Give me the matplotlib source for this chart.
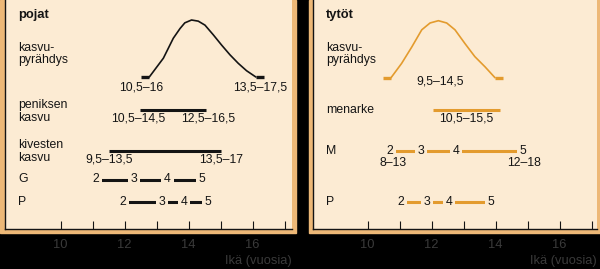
import matplotlib
matplotlib.use("Agg")
import matplotlib.pyplot as plt
from matplotlib.patches import Rectangle

plt.rcParams['font.family'] = ['Liberation Sans', 'DejaVu Sans']

# --- data (ages in years) -------------------------------------------------
ticks = [10, 11, 12, 13, 14, 15, 16, 17]
tick_labels = ['10', '', '12', '', '14', '', '16', '']

# boys
boys_spurt_age = [12.77, 13.21, 13.52, 13.73, 13.88, 14.09, 14.30, 14.51,
                  14.77, 15.03, 15.29, 15.55, 15.81, 16.10]
boys_spurt_rel = [0.0, 0.33, 0.68, 0.85, 0.95, 1.0, 0.98, 0.91,
                  0.74, 0.56, 0.39, 0.24, 0.11, 0.0]
boys_spurt_labels = ['10,5–16', '13,5–17,5']
penis_range = [12.48, 14.53]
penis_labels = ['10,5–14,5', '12,5–16,5']
testes_range = [11.5, 15.02]
testes_labels = ['9,5–13,5', '13,5–17']
g_stages = ['2', '3', '4', '5']
g_ages = [11.1, 12.29, 13.34, 14.42]
boys_p_stages = ['2', '3', '4', '5']
boys_p_ages = [11.94, 13.16, 13.85, 14.6]

# girls
girls_spurt_age = [10.73, 11.06, 11.38, 11.69, 11.95, 12.21, 12.47, 12.73,
                   13.04, 13.35, 13.67, 13.98]
girls_spurt_rel = [0.0, 0.25, 0.54, 0.84, 0.96, 1.0, 0.96, 0.84,
                   0.60, 0.37, 0.19, 0.0]
girls_spurt_label = '9,5–14,5'
menarche_range = [12.05, 14.13]
menarche_label = '10,5–15,5'
m_stages = ['2', '3', '4', '5']
m_ages = [10.68, 11.66, 12.75, 14.86]
m_range_labels = ['8–13', '12–18']
girls_p_stages = ['2', '3', '4', '5']
girls_p_ages = [11.03, 11.86, 12.54, 13.85]

# --- style ------------------------------------------------------------------
BEIGE = '#FCEBD3'
FRAME = '#EDB877'
INK = '#141414'
ORANGE = '#E39B2E'
TICKCOL = '#3a3a3a'
FS = 8.8
PX = 0.72  # points per pixel at dpi 100

W, H = 600, 269
fig = plt.figure(figsize=(W / 100, H / 100), dpi=100, facecolor='black')


def frac(x0, y0, x1, y1):
    # pixel box (top-left origin) -> figure fraction rect
    return [x0 / W, (H - y1) / H, (x1 - x0) / W, (y1 - y0) / H]


def make_panel(frame_box, ax_box, xlim):
    r = frac(*frame_box)
    fig.patches.append(Rectangle(r[:2], r[2], r[3], transform=fig.transFigure,
                                 color=FRAME, zorder=-5))
    ax = fig.add_axes(frac(*ax_box))
    ax.set_facecolor(BEIGE)
    ax.set_xlim(*xlim)
    ax.set_ylim(229, 0)  # vertical layout in pixels from top
    for s in ['top', 'right']:
        ax.spines[s].set_visible(False)
    for s in ['left', 'bottom']:
        ax.spines[s].set_color(INK)
        ax.spines[s].set_linewidth(1.0)
    ax.set_yticks([])
    ax.set_xticks(ticks)
    ax.set_xticklabels(tick_labels)
    ax.tick_params(axis='x', direction='in', length=8 * PX, width=0.8,
                   color=INK, labelcolor=TICKCOL, labelsize=FS + 0.5, pad=7)
    ax.annotate('Ikä (vuosia)', xy=(1, 0), xycoords='axes fraction',
                xytext=(0, -32 * PX), textcoords='offset points',
                ha='right', va='center', color=TICKCOL, fontsize=FS + 0.5)
    return ax


def row_label(ax, text, y, bold=False):
    ax.annotate(text, xy=(0, y), xycoords=('axes fraction', 'data'),
                xytext=(13 * PX, 0), textcoords='offset points',
                ha='left', va='center', fontsize=FS + (0.6 if bold else 0),
                fontweight='bold' if bold else 'normal', color=INK,
                linespacing=1.05)


def label(ax, x, y, text):
    ax.text(x, y, text, ha='center', va='center', fontsize=FS, color=INK)


def spurt(ax, ages, rel, color, base=77, height=57, bar=0.26):
    ys = [base - r * height for r in rel]
    ax.plot(ages, ys, color=color, lw=1.2, solid_capstyle='round')
    ax.plot([ages[0] - bar, ages[0]], [base, base], color=color, lw=2.4,
            solid_capstyle='butt')
    ax.plot([ages[-1], ages[-1] + bar], [base, base], color=color, lw=2.4,
            solid_capstyle='butt')


def stages(ax, ages, names, y, color):
    ax.plot(ages, [y] * len(ages), color=color, lw=2.2, solid_capstyle='butt')
    for a, n in zip(ages, names):
        ax.text(a, y, n, ha='center', va='center', fontsize=FS, color=INK,
                bbox=dict(boxstyle='square,pad=0.22', fc=BEIGE, ec='none'))


# --- boys panel -------------------------------------------------------------
ax1 = make_panel((0, 0, 296, 233), (5, 0, 292, 229), (8.26, 17.23))
row_label(ax1, 'pojat', 15, bold=True)
row_label(ax1, 'kasvu-\npyrähdys', 54)
spurt(ax1, boys_spurt_age, boys_spurt_rel, INK)
label(ax1, boys_spurt_age[0] - 0.26, 87, boys_spurt_labels[0])
label(ax1, boys_spurt_age[-1] + 0.13, 87, boys_spurt_labels[1])

row_label(ax1, 'peniksen\nkasvu', 111.5)
ax1.plot(penis_range, [110, 110], color=INK, lw=2.2, solid_capstyle='butt')
label(ax1, penis_range[0] - 0.06, 118.5, penis_labels[0])
label(ax1, penis_range[1] + 0.09, 118.5, penis_labels[1])

row_label(ax1, 'kivesten\nkasvu', 151.5)
ax1.plot(testes_range, [151, 151], color=INK, lw=2.2, solid_capstyle='butt')
label(ax1, testes_range[0], 160, testes_labels[0])
label(ax1, testes_range[1], 160, testes_labels[1])

row_label(ax1, 'G', 179.5)
stages(ax1, g_ages, g_stages, 179.5, INK)
row_label(ax1, 'P', 201.7)
stages(ax1, boys_p_ages, boys_p_stages, 201.7, INK)

# --- girls panel ------------------------------------------------------------
ax2 = make_panel((309, 0, 600, 233), (313, 0, 597, 229), (8.29, 17.17))
row_label(ax2, 'tytöt', 15, bold=True)
row_label(ax2, 'kasvu-\npyrähdys', 54)
spurt(ax2, girls_spurt_age, girls_spurt_rel, ORANGE, base=77.7)
label(ax2, girls_spurt_age[5] + 0.05, 82, girls_spurt_label)

row_label(ax2, 'menarke', 110)
ax2.plot(menarche_range, [110, 110], color=ORANGE, lw=2.2, solid_capstyle='butt')
label(ax2, sum(menarche_range) / 2, 118.5, menarche_label)

row_label(ax2, 'M', 151)
stages(ax2, m_ages, m_stages, 151, ORANGE)
label(ax2, m_ages[0] + 0.12, 163.5, m_range_labels[0])
label(ax2, m_ages[-1] + 0.03, 163.5, m_range_labels[1])

row_label(ax2, 'P', 201.7)
stages(ax2, girls_p_ages, girls_p_stages, 201.7, ORANGE)

fig.savefig('out.png', dpi=100, facecolor='black')
